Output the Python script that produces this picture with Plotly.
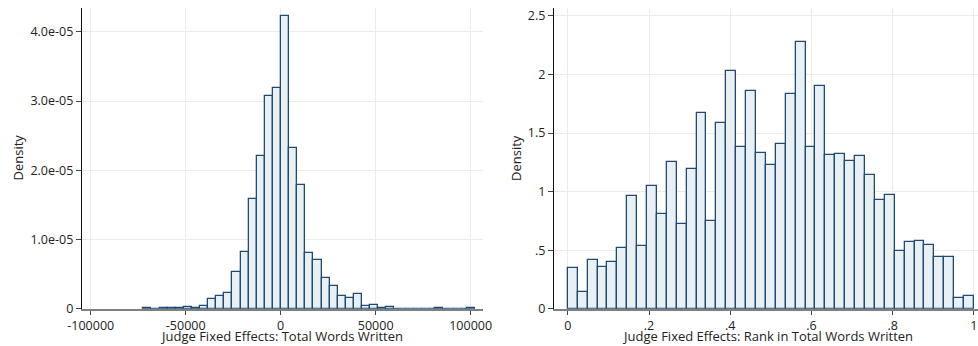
import plotly.graph_objects as go

# ---------------- data ----------------
# Left: histogram of judge fixed effects (41 bins)
left_bin_start = -72296
left_bin_width = 4263
left_density = [
    0.01e-5, 0.0, 0.01e-5, 0.008e-5, 0.008e-5, 0.02e-5, 0.01e-5, 0.04e-5,
    0.135e-5, 0.19e-5, 0.22e-5, 0.535e-5, 0.82e-5, 1.59e-5, 2.20e-5, 3.07e-5,
    3.19e-5, 4.23e-5, 2.32e-5, 1.79e-5, 0.80e-5, 0.70e-5, 0.45e-5, 0.33e-5,
    0.18e-5, 0.16e-5, 0.21e-5, 0.04e-5, 0.05e-5, 0.005e-5, 0.02e-5, 0.0,
    0.0, 0.0, 0.0, 0.0, 0.01e-5, 0.0, 0.0, 0.0, 0.01e-5,
]
left_xticks = [-100000, -50000, 0, 50000, 100000]
left_xticklabels = ["-100000", "-50000", "0", "50000", "100000"]
left_yticks = [0, 1e-5, 2e-5, 3e-5, 4e-5]
left_yticklabels = ["0", "1.0e-05", "2.0e-05", "3.0e-05", "4.0e-05"]

# Right: histogram of rank (41 bins on [0, 1])
right_bin_start = 0.0
right_bin_width = 1 / 41
right_density = [
    0.35, 0.14, 0.42, 0.36, 0.40, 0.52, 0.96, 0.535, 1.05, 0.81,
    1.25, 0.72, 1.19, 1.67, 0.745, 1.59, 2.03, 1.38, 1.86, 1.33,
    1.23, 1.41, 1.83, 2.28, 1.38, 1.90, 1.315, 1.32, 1.26, 1.30,
    1.14, 0.93, 0.97, 0.49, 0.57, 0.575, 0.54, 0.44, 0.445, 0.09, 0.11,
]
right_xticks = [0, 0.2, 0.4, 0.6, 0.8, 1.0]
right_xticklabels = ["0", ".2", ".4", ".6", ".8", "1"]
right_yticks = [0, 0.5, 1, 1.5, 2, 2.5]
right_yticklabels = ["0", ".5", "1", "1.5", "2", "2.5"]

left_xtitle = "Judge Fixed Effects: Total Words Written"
right_xtitle = "Judge Fixed Effects: Rank in Total Words Written"
ytitle = "Density"

# ---------------- styling ----------------
FILL = "#e9f0f3"
EDGE = "#1f4a73"
GRID = "#ebebeb"
FONT = "Open Sans"
TXT = "#222222"
W, H = 978, 346

left_centers = [left_bin_start + (i + 0.5) * left_bin_width for i in range(len(left_density))]
right_centers = [right_bin_start + (i + 0.5) * right_bin_width for i in range(len(right_density))]

fig = go.Figure()
fig.add_trace(go.Bar(
    x=left_centers, y=left_density, width=left_bin_width,
    marker=dict(color=FILL, line=dict(color=EDGE, width=1.3)),
    xaxis="x", yaxis="y", showlegend=False,
))
fig.add_trace(go.Bar(
    x=right_centers, y=right_density, width=right_bin_width,
    marker=dict(color=FILL, line=dict(color=EDGE, width=1.3)),
    xaxis="x2", yaxis="y2", showlegend=False,
))

def px_x(p):
    return p / W

def px_y(p):
    return 1 - p / H

ydom = [px_y(308.7), px_y(8)]

common_x = dict(
    showgrid=True, gridcolor=GRID, gridwidth=1, zeroline=False,
    showline=True, linecolor="#808080", linewidth=2,
    ticks="outside", ticklen=4, tickcolor="#444444", tickwidth=1,
    tickfont=dict(family=FONT, size=12.5, color=TXT), automargin=False,
)
common_y = dict(
    showgrid=True, gridcolor=GRID, gridwidth=1, zeroline=False,
    showline=True, linecolor="#111111", linewidth=1.3,
    ticks="outside", ticklen=5, tickcolor="#444444", tickwidth=1,
    tickfont=dict(family=FONT, size=12.5, color=TXT), automargin=False,
)

fig.update_layout(
    width=W, height=H, autosize=False,
    margin=dict(l=0, r=0, t=0, b=0, pad=0),
    paper_bgcolor="white", plot_bgcolor="white",
    bargap=0, barmode="overlay",
    font=dict(family=FONT, size=12, color=TXT),
    xaxis=dict(domain=[px_x(82), px_x(483)], range=[-104600, 106500],
               tickmode="array", tickvals=left_xticks, ticktext=left_xticklabels,
               anchor="y", **common_x),
    yaxis=dict(domain=ydom, range=[0, 4.345e-5],
               tickmode="array", tickvals=left_yticks, ticktext=left_yticklabels,
               anchor="x", **common_y),
    xaxis2=dict(domain=[px_x(554), 1.0], range=[-0.034, 1.01],
                tickmode="array", tickvals=right_xticks, ticktext=right_xticklabels,
                anchor="y2", **common_x),
    yaxis2=dict(domain=ydom, range=[0, 2.568],
                tickmode="array", tickvals=right_yticks, ticktext=right_yticklabels,
                anchor="x2", **common_y),
)

ann = [
    dict(text=left_xtitle, x=px_x(281.7), y=px_y(336)),
    dict(text=right_xtitle, x=px_x(767.5), y=px_y(336)),
    dict(text=ytitle, x=px_x(17.5), y=px_y(158), textangle=-90),
    dict(text=ytitle, x=px_x(516), y=px_y(158), textangle=-90),
]
for a in ann:
    fig.add_annotation(xref="paper", yref="paper", showarrow=False,
                       xanchor="center", yanchor="middle",
                       font=dict(family=FONT, size=13, color=TXT), **a)

fig.write_html(
    "out.html",
    config={"displayModeBar": False},
    post_script="document.body.style.margin='0';document.body.style.overflow='hidden';",
)
